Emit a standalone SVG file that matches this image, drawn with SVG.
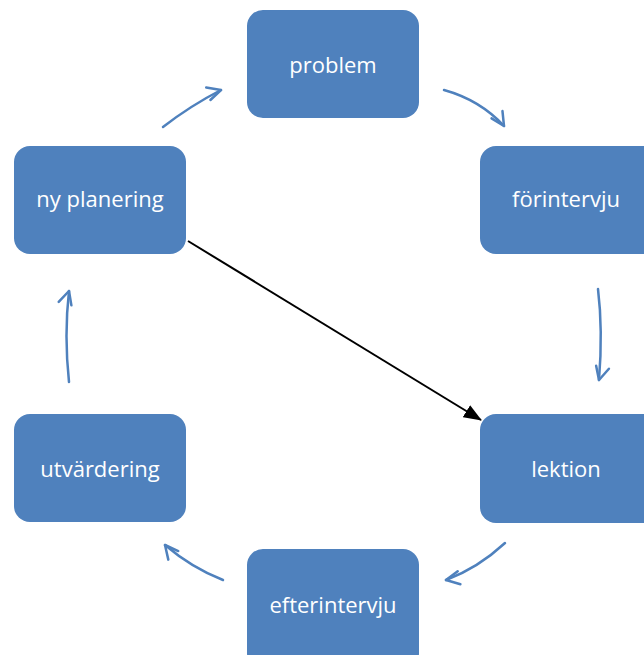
<svg xmlns="http://www.w3.org/2000/svg" width="644" height="655" viewBox="0 0 644 655">
<style>
.box{fill:#4F81BD}
.lbl{fill:#ffffff;font-family:"Open Sans","Liberation Sans",sans-serif;font-size:22px;text-anchor:middle;dominant-baseline:central}
.cyc{fill:none;stroke:#4F81BD;stroke-width:2.5;stroke-linecap:round;stroke-linejoin:round}
</style>
<defs>
<marker id="blk" markerWidth="18" markerHeight="14" refX="17" refY="7" orient="auto" markerUnits="userSpaceOnUse" viewBox="0 0 18 14">
<path d="M0,0 L18,7 L0,14 z" fill="#000"/>
</marker>
<marker id="bl" markerWidth="22" markerHeight="22" refX="18" refY="11" orient="auto" markerUnits="userSpaceOnUse" viewBox="0 0 22 22">
<path d="M6,2 L18,11 L4,15" fill="none" stroke="#4F81BD" stroke-width="2.5" stroke-linecap="round" stroke-linejoin="round"/>
</marker>
</defs>
<rect width="644" height="655" fill="#fff"/>
<g id="problem"><rect class="box" x="247" y="10" width="172" height="108" rx="16"/><text class="lbl" x="333" y="64">problem</text></g>
<g id="forintervju"><rect class="box" x="480" y="146" width="180" height="108" rx="16"/><text class="lbl" x="566" y="198">förintervju</text></g>
<g id="lektion"><rect class="box" x="480" y="414" width="180" height="109" rx="16"/><text class="lbl" x="566" y="468">lektion</text></g>
<g id="efterintervju"><rect class="box" x="247" y="549" width="172" height="120" rx="16"/><text class="lbl" x="333" y="604">efterintervju</text></g>
<g id="utvardering"><rect class="box" x="14" y="414" width="172" height="108" rx="16"/><text class="lbl" x="100" y="468">utvärdering</text></g>
<g id="nyplanering"><rect class="box" x="14" y="146" width="172" height="108" rx="16"/><text class="lbl" x="100" y="198">ny planering</text></g>
<g id="connectors">
<path class="cyc" d="M163,127 Q190,106 221,90" marker-end="url(#bl)"/>
<path class="cyc" d="M444,90 Q480,100 504,126" marker-end="url(#bl)"/>
<path class="cyc" d="M598,289 Q603,330 599,380" marker-end="url(#bl)"/>
<path class="cyc" d="M505,543 Q478,568 446,580" marker-end="url(#bl)"/>
<path class="cyc" d="M223,580 Q192,568 165,545" marker-end="url(#bl)"/>
<path class="cyc" d="M69,382 Q64,335 69,291" marker-end="url(#bl)"/>
<line x1="188" y1="241" x2="481" y2="420" stroke="#000" stroke-width="2" marker-end="url(#blk)"/>
</g>
</svg>
